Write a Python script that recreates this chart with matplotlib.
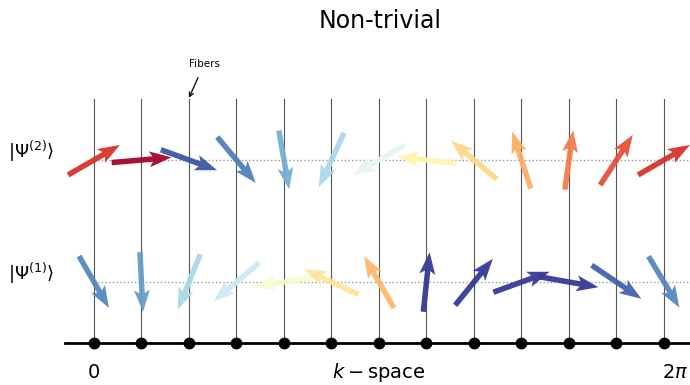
import numpy as np
import matplotlib
matplotlib.use("Agg")
import matplotlib.pyplot as plt

# fibers over the Brillouin zone, k = 0 ... 2pi
k = np.linspace(0, 2 * np.pi, 13)

# arrow directions (degrees) on each fiber for the two bands
angle_psi2 = [30, 5, -20, -50, -80, -115, -150, 173, 140, 108, 82, 57, 30]
angle_psi1 = [-60, -87, -112, -140, -171, 155, 120, 84, 51, 20, -10, -34, -59]

# colour of each arrow on the RdYlBu scale
color_psi2 = [0.1, 0.0, 0.95, 0.88, 0.8, 0.7, 0.58, 0.47, 0.38, 0.3, 0.22, 0.15, 0.1]
color_psi1 = [0.87, 0.83, 0.7, 0.64, 0.52, 0.42, 0.32, 1.0, 1.0, 1.0, 1.0, 0.93, 0.87]

row_psi1 = 0.5
row_psi2 = 1.5

fig = plt.figure(figsize=(6.9, 3.85), dpi=100)
ax = fig.add_axes([0, 0, 1, 1])
ax.set_xlim(-1.036, 6.57)
ax.set_ylim(-0.344, 2.811)
ax.axis("off")

cmap = plt.get_cmap("RdYlBu")

# fibers and base line
for kk in k:
    ax.plot([kk, kk], [0, 2.0], color="#555555", lw=0.8, zorder=1)
ax.plot([-0.32, 6.57], [0, 0], color="black", lw=2, zorder=2)
ax.plot(k, np.zeros_like(k), "o", color="black", ms=7.5, zorder=3)

# band reference lines
for row in (row_psi1, row_psi2):
    ax.plot([0, 6.57], [row, row], color="#999999", lw=1, ls=":", zorder=1)

for row, ang, col in ((row_psi2, angle_psi2, color_psi2),
                      (row_psi1, angle_psi1, color_psi1)):
    a = np.deg2rad(ang)
    ax.quiver(k, np.full_like(k, row), np.cos(a), np.sin(a),
              color=cmap(np.array(col)), alpha=0.93,
              angles="uv", scale_units="x", scale=1.515, pivot="middle",
              units="dots", width=5.5, headwidth=2.9, headlength=4.0,
              headaxislength=3.4, zorder=4)

ax.text(-0.95, row_psi2 + 0.07, r"$|\Psi^{(2)}\rangle$", fontsize=13,
        ha="left", va="center")
ax.text(-0.95, row_psi1 + 0.07, r"$|\Psi^{(1)}\rangle$", fontsize=13,
        ha="left", va="center")

ax.text(0, -0.24, "0", fontsize=14, ha="center", va="center")
ax.text(np.pi, -0.24, r"$k - \mathrm{space}$", fontsize=14, ha="center", va="center")
ax.text(6.405, -0.24, r"$2\pi$", fontsize=14, ha="center", va="center")

ax.annotate("Fibers", xy=(k[2], 2.01), xytext=(k[2] + 0.17, 2.29),
            fontsize=7.5, ha="center", va="center",
            arrowprops=dict(arrowstyle="->", color="black", lw=0.9,
                            shrinkA=5, shrinkB=0))

fig.text(0.551, 0.945, "Non-trivial", fontsize=17, ha="center", va="center")

fig.savefig("out.png", dpi=100)
